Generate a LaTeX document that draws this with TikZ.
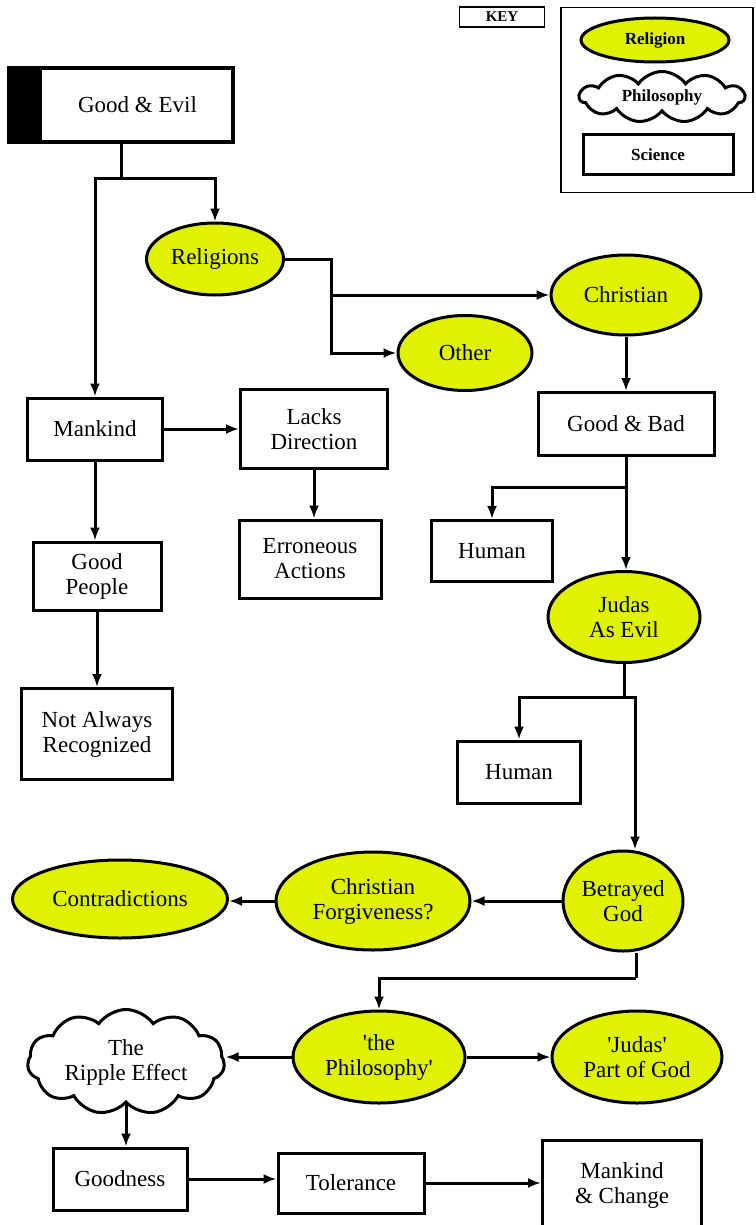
\documentclass[tikz,border=0pt]{standalone}
\usepackage{fontspec}
\setmainfont{Liberation Serif}
\usepackage{tikz}
\usetikzlibrary{arrows.meta,shapes.geometric,shapes.symbols}

\definecolor{relyellow}{RGB}{224,242,0}

\tikzset{
  sci/.style={draw, line width=3pt, fill=white, rectangle, align=center, font=\fontsize{23}{25}\selectfont},
  rel/.style={draw, line width=3pt, fill=relyellow, ellipse, inner sep=0pt, align=center, font=\fontsize{23}{25}\selectfont},
  phil/.style={draw, line width=3pt, fill=white, cloud, cloud puffs=11, cloud puff arc=110, cloud ignores aspect, inner sep=0pt, align=center, font=\fontsize{23}{25}\selectfont},
  keytext/.style={font=\fontsize{17}{19}\selectfont\bfseries},
  link/.style={line width=3pt, -{Latex[length=13pt,width=10pt]}},
  line/.style={line width=3pt}
}

\begin{document}
\begin{tikzpicture}[x=1pt, y=-1pt]
\useasboundingbox (0,0) rectangle (755,1225);

% key
\node (keylabel) [draw, line width=1.2pt, minimum width=85pt, minimum height=20pt, inner sep=0pt, font=\fontsize{15}{16}\selectfont\bfseries] at (502,17) {KEY};
\node (keyframe) [draw, line width=1.2pt, minimum width=192pt, minimum height=185pt] at (657,100) {};
\node (keyrel)  [rel, keytext, minimum width=148pt, minimum height=44pt] at (655,40) {Religion};
\node (keyphil) [phil, keytext, minimum width=165pt, minimum height=51pt] at (662,97) {Philosophy};
\node (keysci)  [sci, keytext, minimum width=150pt, minimum height=40pt] at (658,155) {Science};

% left branch
\node (goodevil) [sci, line width=4pt, minimum width=224pt, minimum height=74pt,
  path picture={\fill[black] (path picture bounding box.north west) rectangle ([xshift=33pt]path picture bounding box.south west);}]
  at (121,105) {\hspace*{33pt}Good \& Evil};
\node (religions) [rel, minimum width=137pt, minimum height=72pt] at (215,259) {Religions};
\node (christian) [rel, minimum width=150pt, minimum height=80pt] at (626,295) {Christian};
\node (other)     [rel, minimum width=134pt, minimum height=75pt] at (465,353) {Other};
\node (mankind)   [sci, minimum width=135pt, minimum height=62pt] at (95,429) {Mankind};
\node (lacks)     [sci, minimum width=147pt, minimum height=79pt] at (314,429) {Lacks\\Direction};
\node (erroneous) [sci, minimum width=142pt, minimum height=78pt] at (310,559) {Erroneous\\Actions};
\node (goodpeople)[sci, minimum width=128pt, minimum height=68pt] at (97,576) {Good\\People};
\node (notalways) [sci, minimum width=151pt, minimum height=91pt] at (97,734) {Not Always\\Recognized};

% right branch
\node (goodbad)  [sci, minimum width=176pt, minimum height=63pt] at (626,424) {Good \& Bad};
\node (human1)   [sci, minimum width=121pt, minimum height=61pt] at (492,551) {Human};
\node (judas)    [rel, minimum width=152pt, minimum height=91pt] at (624,617) {Judas\\As Evil};
\node (human2)   [sci, minimum width=123pt, minimum height=62pt] at (519,772) {Human};
\node (betrayed) [rel, minimum width=120pt, minimum height=100pt] at (623,901) {Betrayed\\God};
\node (forgive)  [rel, minimum width=194pt, minimum height=98pt] at (373,901) {Christian\\Forgiveness?};
\node (contra)   [rel, minimum width=215pt, minimum height=78pt] at (120,899) {Contradictions};
\node (philo)    [rel, minimum width=172pt, minimum height=92pt] at (379,1057) {\textquotesingle the\\Philosophy\textquotesingle};
\node (judaspart)[rel, minimum width=170pt, minimum height=92pt] at (637,1057) {\textquotesingle Judas\textquotesingle\\Part of God};
\node (ripple)   [phil, minimum width=197pt, minimum height=105pt] at (126,1062) {The\\Ripple Effect};
\node (goodness) [sci, minimum width=134pt, minimum height=62pt] at (120,1179) {Goodness};
\node (tolerance)[sci, minimum width=146pt, minimum height=60pt] at (351,1183) {Tolerance};
\node (mchange)  [sci, minimum width=159pt, minimum height=90pt] at (622,1185) {Mankind\\\& Change};

% junctions
\coordinate (ge-j) at (121,179);
\coordinate (rel-j) at (331,295);
\coordinate (gb-j) at (626,487);
\coordinate (ju-j) at (624,697);
\coordinate (bg-j) at (636,978);

% connectors
\draw [line] (goodevil.south) -- (ge-j);
\draw [link] (ge-j) -| (religions.north);
\draw [link] (ge-j) -| (mankind.north);
\draw [line] (religions.east) -| (rel-j);
\draw [link] (rel-j) -- (christian.west);
\draw [link] (rel-j) |- (other.west);
\draw [link] (christian.south) -- (goodbad.north);
\draw [link] (goodbad.south) -- (goodbad.south |- judas.north);
\draw [link] (gb-j) -| (human1.north);
\draw [line] (judas.south) -- (ju-j);
\draw [link] (ju-j) -| (human2.north);
\draw [link] (ju-j) -| ([xshift=12pt]betrayed.north);
\draw [link] (betrayed.west) -- (forgive.east);
\draw [link] (forgive.west) -- (forgive.west -| contra.east);
\draw [line] ([xshift=13pt]betrayed.south) -- (bg-j);
\draw [link] (bg-j) -| (philo.north);
\draw [link] (philo.west) -- (philo.west -| ripple.east);
\draw [link] (philo.east) -- (philo.east -| judaspart.west);
\draw [link] (ripple.south) -- (ripple.south |- goodness.north);
\draw [link] (goodness.east) -- (goodness.east -| tolerance.west);
\draw [link] (tolerance.east) -- (tolerance.east -| mchange.west);
\draw [link] (mankind.east) -- (mankind.east -| lacks.west);
\draw [link] (lacks.south) -- (lacks.south |- erroneous.north);
\draw [link] (mankind.south) -- (mankind.south |- goodpeople.north);
\draw [link] (goodpeople.south) -- (goodpeople.south |- notalways.north);
\end{tikzpicture}
\end{document}
